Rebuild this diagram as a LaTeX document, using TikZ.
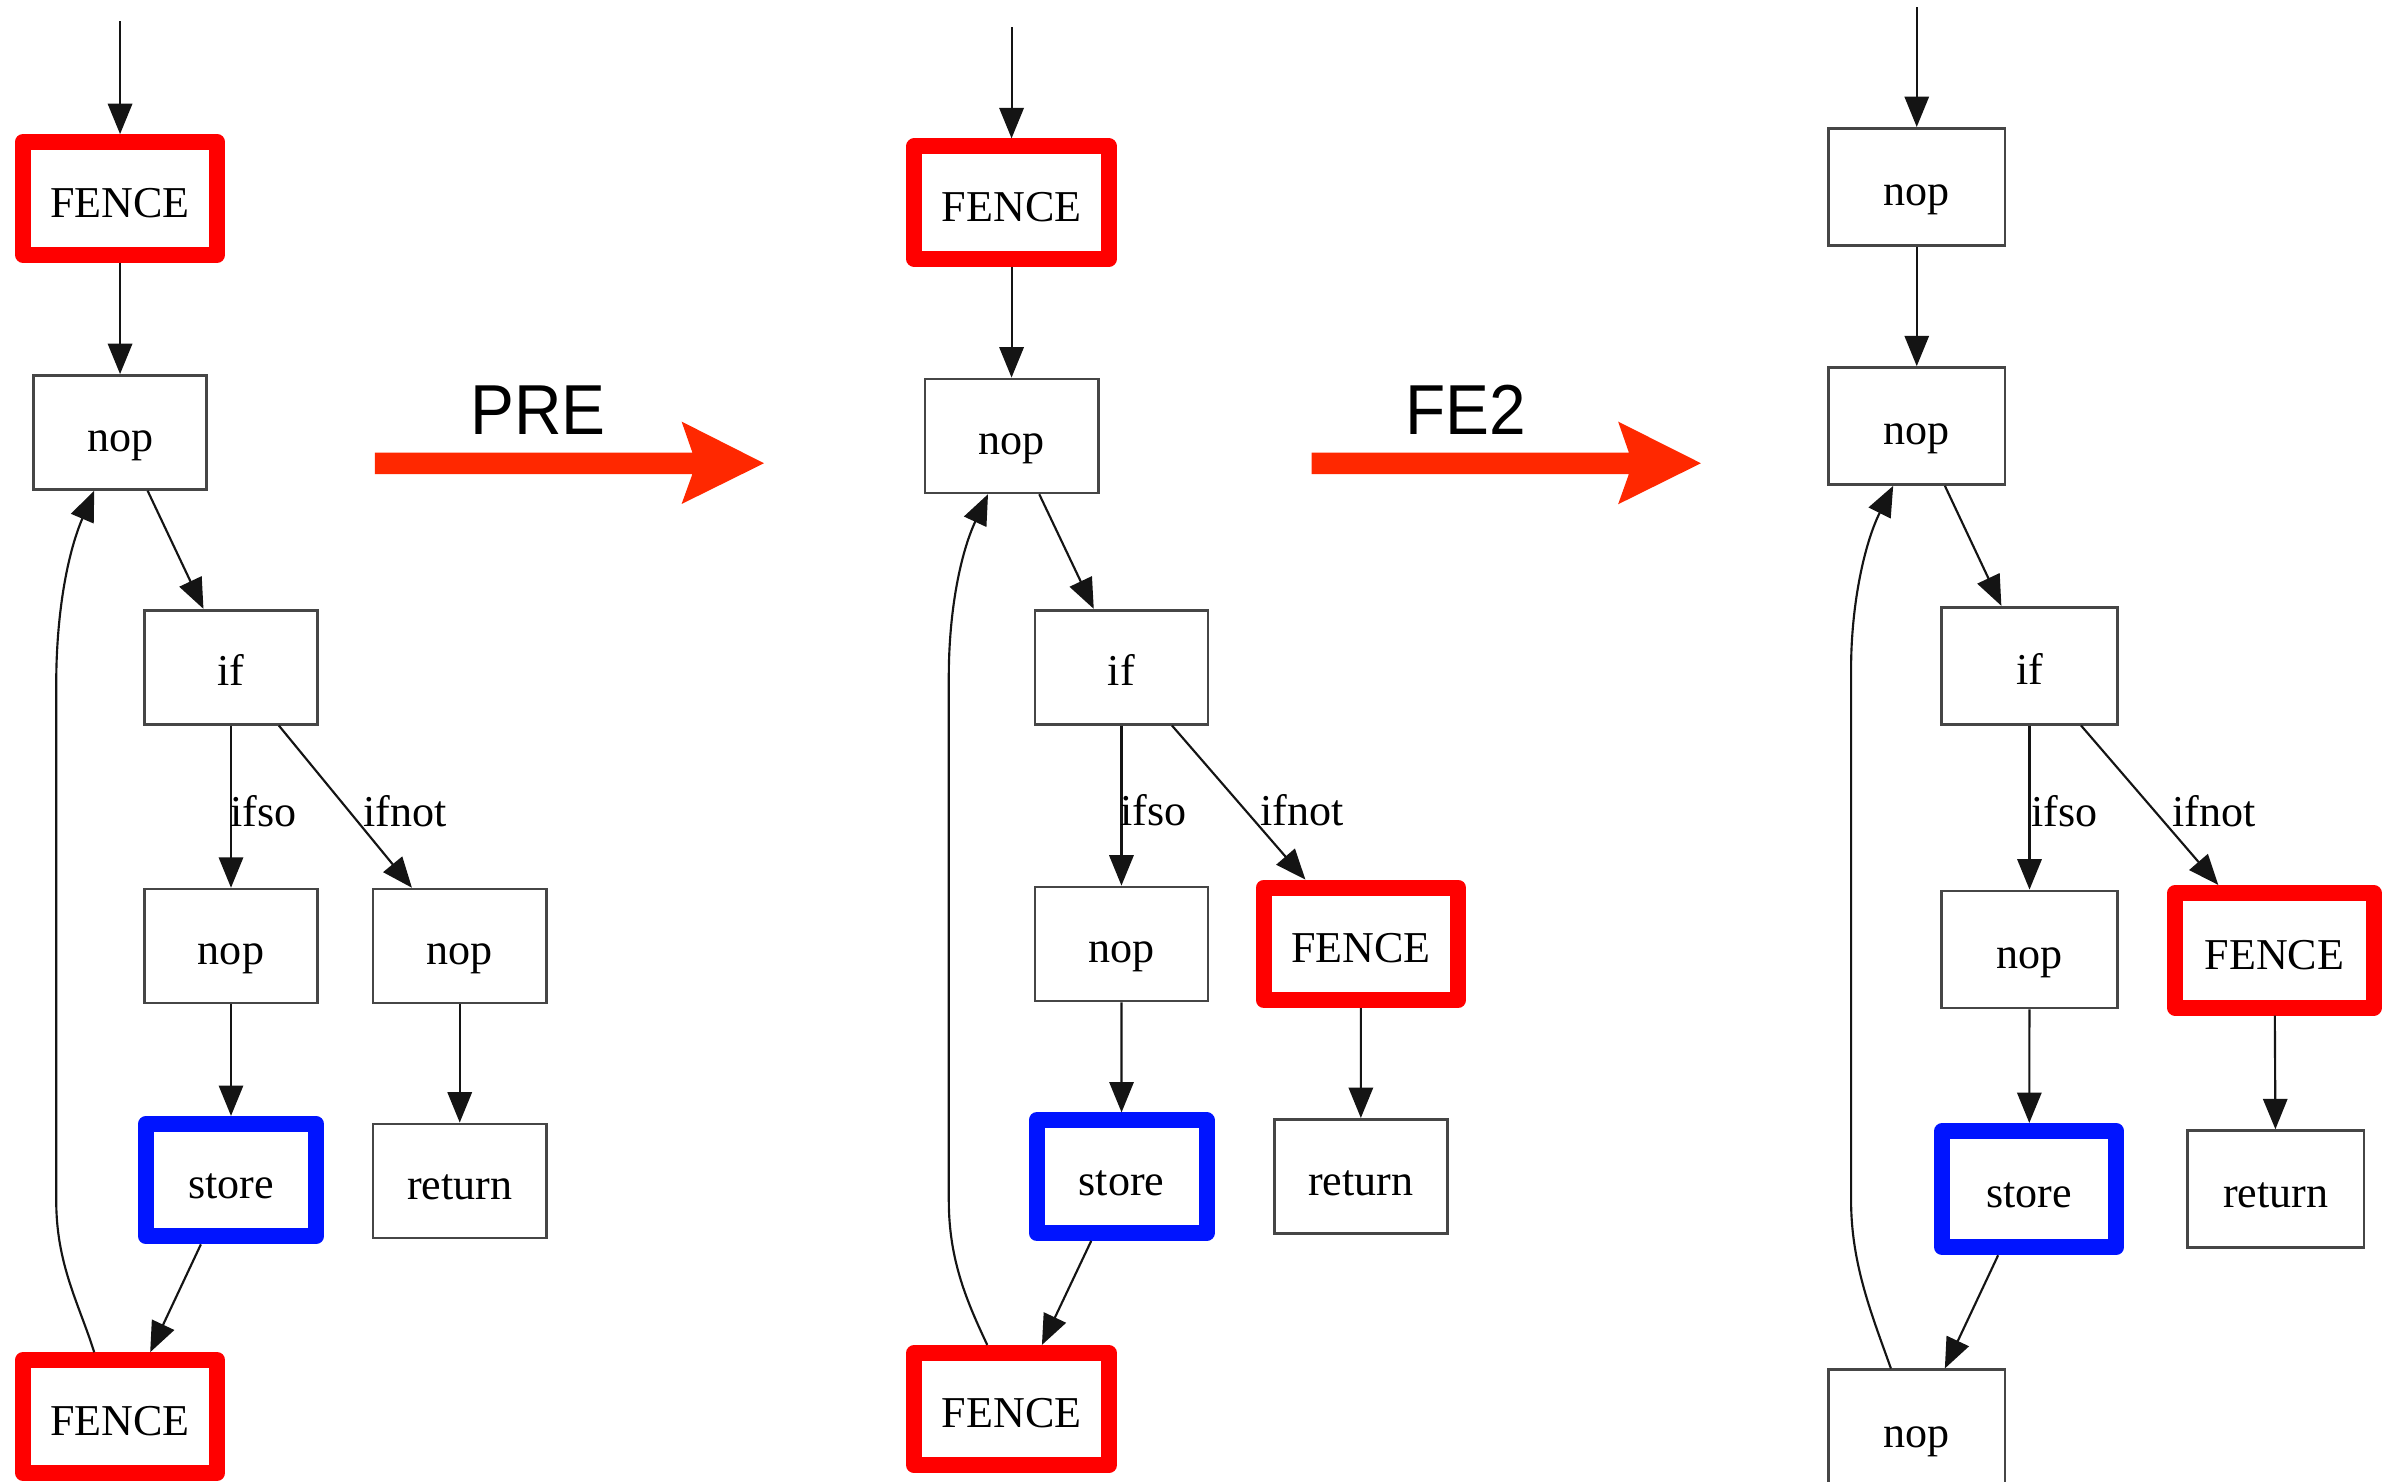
\documentclass[tikz,border=0pt]{standalone}
\usepackage{fontspec}
\usepackage{graphicx}
\setmainfont{Liberation Serif}
\newfontfamily\arrowfont{Liberation Sans}
\usetikzlibrary{arrows.meta,calc}
\definecolor{fencered}{RGB}{255,0,0}
\definecolor{storeblue}{RGB}{0,20,255}
\definecolor{bigred}{RGB}{255,40,0}
\definecolor{thinline}{RGB}{70,70,70}
\definecolor{edgeline}{RGB}{20,20,20}
\begin{document}
\begin{tikzpicture}[x=0.02cm,y=-0.02cm,
  nodefont/.style={font=\fontsize{16.5}{18}\selectfont, text height=15pt, text depth=1pt},
  box/.style={nodefont, draw=thinline, line width=1pt, minimum width=2.28cm, minimum height=1.5cm, inner sep=0pt},
  fencebox/.style={nodefont, draw=fencered, line width=6pt, line join=round, minimum width=2.56cm, minimum height=1.48cm, inner sep=0pt},
  storebox/.style={nodefont, draw=storeblue, line width=6pt, line join=round, minimum width=2.24cm, minimum height=1.48cm, inner sep=0pt},
  rsize/.style={minimum width=2.32cm, minimum height=1.54cm},
  rfsize/.style={minimum width=2.61cm, minimum height=1.51cm},
  rssize/.style={minimum width=2.29cm, minimum height=1.53cm},
  flow/.style={draw=edgeline, line width=0.8pt, -{Triangle[length=0.4cm,width=0.32cm]}},
  lbl/.style={font=\fontsize{16.5}{18}\selectfont, inner sep=0pt, anchor=base},
  bigtxt/.style={font=\arrowfont\fontsize{26.5}{30}\selectfont, inner sep=0pt, anchor=base}
]
\useasboundingbox (0,0) rectangle (1568,975);
\fill[white] (0,0) rectangle (1568,975);
\clip (0,0) rectangle (1568,975);

% ---------- left graph ----------
\node[fencebox] (lF1) at (79,130.5) {FENCE};
\node[box] (ln1) at (79,284.5) {nop};
\node[box] (lif) at (152,439) {if};
\node[box] (ln2) at (152,622.5) {nop};
\node[box] (ln3) at (302.5,622.5) {nop};
\node[storebox] (lst) at (152,776.5) {store};
\node[box] (lret) at (302.5,777) {return};
\node[fencebox] (lF2) at (79,932) {FENCE};
\coordinate (lin) at (79,14);
\draw[flow] (lin) -- (lF1);
\draw[flow] (lF1) -- (ln1);
\draw[flow] (ln1) -- (lif);
\draw[flow] (lif) -- (ln2);
\draw[flow] (lif) -- (ln3);
\draw[flow] (ln2) -- (lst);
\draw[flow] (ln3) -- (lret);
\draw[flow] (lst) -- (lF2);
\draw[flow] ($(lF2.north)+(-17,0)$) .. controls (52,858) and (37,832) .. (37,790) -- (37,450) .. controls (37,405) and (44,365) .. ($(ln1.south)+(-17,0)$);
\node[lbl] (lso) at (173.5,544) {ifso};
\node[lbl] (lnot) at (266.5,544) {ifnot};

% ---------- PRE arrow ----------
\fill[bigred] (246.7,297.8) -- (455.6,297.8) -- (448.5,277.4) -- (502.7,304.8) -- (448.5,331.6) -- (455.6,311.9) -- (246.7,311.9) -- cycle;
\node[bigtxt] (pre) at (354,285.6) {\scalebox{0.93}[1]{PRE}};

% ---------- middle graph ----------
\node[fencebox] (mF1) at (665.6,133.3) {FENCE};
\node[box] (mn1) at (665.6,286.8) {nop};
\node[box] (mif) at (737.9,439) {if};
\node[box] (mn2) at (737.9,621.1) {nop};
\node[fencebox] (mF3) at (895.5,621) {FENCE};
\node[storebox] (mst) at (738,774.2) {store};
\node[box] (mret) at (895.4,774) {return};
\node[fencebox] (mF2) at (665.6,927.2) {FENCE};
\coordinate (min) at (665.6,18);
\draw[flow] (min) -- (mF1);
\draw[flow] (mF1) -- (mn1);
\draw[flow] (mn1) -- (mif);
\draw[flow] (mif) -- (mn2);
\draw[flow] (mif) -- (mF3);
\draw[flow] (mn2) -- (mst);
\draw[flow] (mF3) -- (mret);
\draw[flow] (mst) -- (mF2);
\draw[flow] ($(mF2.north)+(-16,0)$) .. controls (637,858) and (624.3,830) .. (624.3,790) -- (624.3,445) .. controls (624.3,402) and (632,364) .. ($(mn1.south)+(-15.5,0)$);
\node[lbl] (mso) at (759,543) {ifso};
\node[lbl] (mnot) at (856.5,543) {ifnot};

% ---------- FE2 arrow ----------
\fill[bigred] (863,297.8) -- (1071.8,297.8) -- (1064.7,277.4) -- (1119.2,304.8) -- (1064.7,331.8) -- (1071.8,311.9) -- (863,311.9) -- cycle;
\node[bigtxt] (fe2) at (964.4,285.6) {\scalebox{0.93}[1]{FE2}};

% ---------- right graph ----------
\node[box,rsize] (rn0) at (1261.2,122.9) {nop};
\node[box,rsize] (rn1) at (1261.2,280.3) {nop};
\node[box,rsize] (rif) at (1335.4,438) {if};
\node[box,rsize] (rn2) at (1335.4,624.7) {nop};
\node[fencebox,rfsize] (rF) at (1496.6,625.3) {FENCE};
\node[storebox,rssize] (rst) at (1335.2,782.4) {store};
\node[box,rsize] (rret) at (1497.4,782.4) {return};
\node[box,rsize] (rn3) at (1261.2,939.8) {nop};
\coordinate (rin) at (1261.2,4.6);
\draw[flow] (rin) -- (rn0);
\draw[flow] (rn0) -- (rn1);
\draw[flow] (rn1) -- (rif);
\draw[flow] (rif) -- (rn2);
\draw[flow] (rif) -- (rF);
\draw[flow] (rn2) -- (rst);
\draw[flow] (rF) -- (rret);
\draw[flow] (rst) -- (rn3);
\draw[flow] ($(rn3.north)+(-17,0)$) .. controls (1232,866) and (1218,832) .. (1218,790) -- (1218,440) .. controls (1218,397) and (1227,357) .. ($(rn1.south)+(-15.5,0)$);
\node[lbl] (rso) at (1358.5,544) {ifso};
\node[lbl] (rnot) at (1456.8,544) {ifnot};
\end{tikzpicture}
\end{document}
